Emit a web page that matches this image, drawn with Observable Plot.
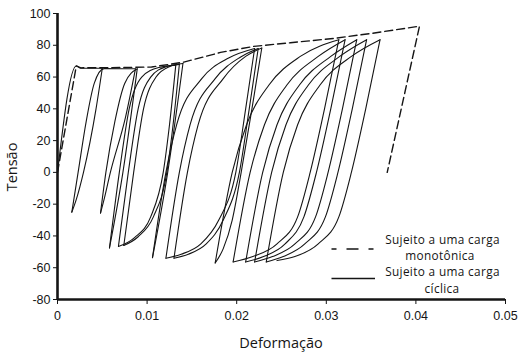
<!DOCTYPE html>
<html>
<head>
<meta charset="utf-8">
<script src="https://cdn.jsdelivr.net/npm/d3@7"></script>
<script src="https://cdn.jsdelivr.net/npm/@observablehq/plot@0.6"></script>
<style>
  html, body { margin: 0; padding: 0; background: #fff; }
  #chart svg { display: block; }
</style>
</head>
<body>
<div id="chart"></div>
<script>
// Axis ticks
const xTicks = [0, 0.01, 0.02, 0.03, 0.04, 0.05];
const xTickLabels = ["0", "0.01", "0.02", "0.03", "0.04", "0.05"];
const yTicks = [-80, -60, -40, -20, 0, 20, 40, 60, 80, 100];

// Monotonic loading curve (strain, stress)
const monoStrain = [0, 0.0021, 0.0026, 0.0060, 0.0105, 0.0141, 0.0182, 0.0219, 0.0260, 0.0308, 0.0352, 0.0404, 0.0368];
const monoStress = [0, 67, 65.8, 65.9, 66.3, 69.4, 75.5, 79.3, 81.6, 84.3, 87.6, 92.0, 0];

// Cyclic test: each branch runs between two load reversals, as [strain, stress]
const firstLoading = [[0, 0], [0.0021, 67], [0.0026, 65.5], [0.0050, 65.5]];

const smallCycles = [
  [[0.0050, 65.5], [0.0043, 40], [0.0029, 0], [0.0021, -17], [0.0016, -25]],
  [[0.0016, -25], [0.0023, 0], [0.0032, 32], [0.0041, 56], [0.0052, 65.3], [0.0087, 65.2]],
  [[0.0087, 65.2], [0.0076, 35], [0.0059, 0], [0.0052, -17], [0.0048, -25.6]],
  [[0.0048, -25.6], [0.0054, 0], [0.0064, 32], [0.0075, 56], [0.0089, 65.2]]
];

const cycles47 = [
  [[0.0089, 65.2], [0.0073, 0], [0.0058, -47.6]],
  [[0.0058, -47.6], [0.0069, 0], [0.0080, 40], [0.0094, 60], [0.0113, 66], [0.0132, 67.5]],
  [[0.0132, 67.5], [0.0125, 30], [0.0118, 0], [0.0104, -28], [0.0086, -41], [0.0068, -46.6]],
  [[0.0068, -46.6], [0.0079, 0], [0.0090, 40], [0.0104, 60], [0.0121, 66.5], [0.0136, 68]],
  [[0.0136, 68], [0.0129, 30], [0.0122, 0], [0.0107, -28], [0.0090, -40.5], [0.0074, -46]],
  [[0.0074, -46], [0.0085, 0], [0.0096, 40], [0.0110, 60], [0.0126, 66.8], [0.0140, 68.5]]
];

const cycles54 = [
  [[0.0140, 68.5], [0.0123, 0], [0.0106, -53.7]],
  [[0.0106, -53.7], [0.0121, 0], [0.0133, 30], [0.0161, 59], [0.0191, 72], [0.0220, 78]],
  [[0.0220, 78], [0.0210, 40], [0.0199, 0], [0.0180, -30], [0.0160, -45], [0.0138, -51.5], [0.0121, -54]],
  [[0.0121, -54], [0.0136, 0], [0.0148, 30], [0.0176, 59], [0.0204, 72.5], [0.0224, 78]],
  [[0.0224, 78], [0.0214, 40], [0.0203, 0], [0.0185, -30], [0.0166, -45], [0.0146, -51.5], [0.0130, -54]],
  [[0.0130, -54], [0.0145, 0], [0.0157, 30], [0.0185, 59], [0.0210, 73], [0.0228, 78.3]]
];

const cycles57 = [
  [[0.0228, 78.3], [0.0217, 40], [0.0205, 0], [0.0195, -30], [0.0185, -48], [0.0176, -57]],
  [[0.0176, -57], [0.0195, 0], [0.0211, 30], [0.0236, 55], [0.0271, 73], [0.0314, 83.5]],
  [[0.0314, 83.5], [0.0298, 40], [0.0282, 0], [0.0268, -28], [0.0245, -45], [0.0218, -53], [0.0196, -56.4]],
  [[0.0196, -56.4], [0.0215, 0], [0.0231, 30], [0.0256, 55], [0.0291, 73], [0.0321, 83.5]],
  [[0.0321, 83.5], [0.0305, 40], [0.0289, 0], [0.0275, -28], [0.0254, -45], [0.0230, -53], [0.0210, -56.4]],
  [[0.0210, -56.4], [0.0229, 0], [0.0245, 30], [0.0270, 55], [0.0305, 73], [0.0334, 83.5]],
  [[0.0334, 83.5], [0.0318, 40], [0.0302, 0], [0.0288, -28], [0.0265, -45], [0.0240, -53], [0.0220, -56.4]],
  [[0.0220, -56.4], [0.0239, 0], [0.0255, 30], [0.0280, 55], [0.0315, 73], [0.0345, 83.5]],
  [[0.0345, 83.5], [0.0329, 40], [0.0313, 0], [0.0299, -28], [0.0276, -45], [0.0252, -53], [0.0233, -56.4]],
  [[0.0233, -56.4], [0.0252, 0], [0.0268, 30], [0.0293, 55], [0.0328, 73], [0.0360, 83.5]],
  [[0.0360, 83.5], [0.0344, 40], [0.0328, 0], [0.0314, -28], [0.0291, -45], [0.0265, -53], [0.0245, -55.5]]
];

// Tables for the marks
const monoRows = monoStrain.map((strain, i) => ({strain, stress: monoStress[i]}));
const branches = [firstLoading, ...smallCycles, ...cycles47, ...cycles54, ...cycles57];
const cyclicRows = branches.flatMap((b, k) =>
  b.map(([strain, stress]) => ({strain, stress, branch: k}))
   .sort((p, q) => p.strain - q.strain)
);

const ink = "#151515";

const chart = Plot.plot({
  width: 518,
  height: 356,
  marginLeft: 57,
  marginRight: 13,
  marginTop: 13,
  marginBottom: 57,
  style: {fontFamily: "'Liberation Sans', Arial, sans-serif", fontSize: "12.5px", color: ink, background: "#fff"},
  x: {domain: [0, 0.05]},
  y: {domain: [-80, 100]},
  marks: [
    Plot.line(monoRows, {x: "strain", y: "stress", stroke: ink, strokeWidth: 1.4, strokeDasharray: "8,4"}),
    Plot.line(cyclicRows, {x: "strain", y: "stress", z: "branch", curve: "monotone-x", stroke: ink, strokeWidth: 1.1}),
    Plot.ruleX([0], {stroke: ink, strokeWidth: 2.6}),
    Plot.ruleY([-80], {stroke: ink, strokeWidth: 2.6}),
    Plot.axisX({ticks: xTicks, tickFormat: d => xTickLabels[xTicks.indexOf(d)], tickSize: 5, tickPadding: 7, label: null}),
    Plot.axisY({ticks: yTicks, tickFormat: d => String(d), tickSize: 4, tickPadding: 3, label: null})
  ]
});

document.getElementById("chart").append(chart);

// Axis titles and legend
const svg = d3.select(chart);
const titleFont = "'Open Sans', 'Noto Sans', sans-serif";

svg.append("text")
  .attr("x", 281).attr("y", 348)
  .attr("text-anchor", "middle")
  .attr("font-family", titleFont).attr("font-size", 14.5).attr("fill", ink)
  .text("Deformação");

svg.append("text")
  .attr("transform", "translate(17,167) rotate(-90)")
  .attr("text-anchor", "middle")
  .attr("font-family", titleFont).attr("font-size", 14.5).attr("fill", ink)
  .text("Tensão");

const legend = svg.append("g")
  .attr("font-family", titleFont).attr("font-size", 11.8).attr("letter-spacing", 0.35)
  .attr("fill", ink).attr("text-anchor", "middle");

legend.append("line")
  .attr("x1", 331.5).attr("x2", 373.5).attr("y1", 249).attr("y2", 249)
  .attr("stroke", ink).attr("stroke-width", 1.5)
  .attr("stroke-dasharray", "12 10").attr("stroke-dashoffset", 7);
legend.append("text").attr("x", 442.5).attr("y", 244).text("Sujeito a uma carga");
legend.append("text").attr("x", 440).attr("y", 260.2).text("monotônica");

legend.append("line")
  .attr("x1", 331.5).attr("x2", 375).attr("y1", 278.5).attr("y2", 278.5)
  .attr("stroke", ink).attr("stroke-width", 1.5);
legend.append("text").attr("x", 442.5).attr("y", 276.4).text("Sujeito a uma carga");
legend.append("text").attr("x", 442).attr("y", 292.6).text("cíclica");
</script>
</body>
</html>
